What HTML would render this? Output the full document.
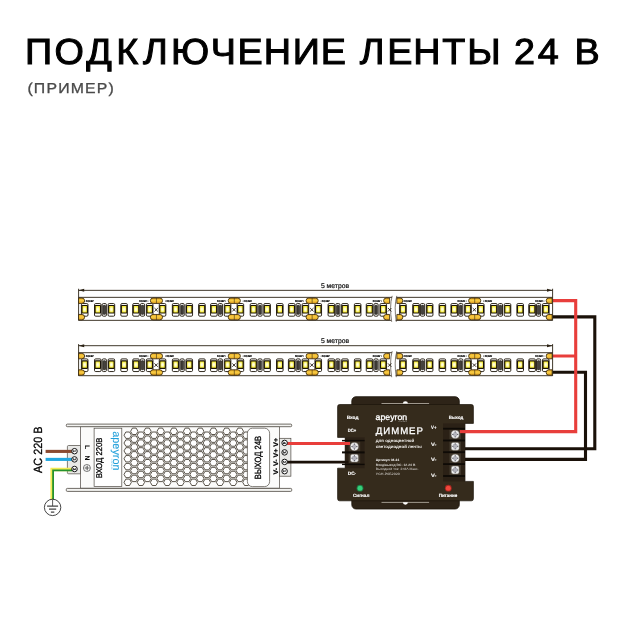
<!DOCTYPE html>
<html lang="ru"><head><meta charset="utf-8"><title>Подключение ленты 24 В</title>
<style>
html,body{margin:0;padding:0;background:#fff;}
body{width:630px;height:630px;overflow:hidden;font-family:"Liberation Sans",sans-serif;}
svg{display:block;position:absolute;left:0;top:0;will-change:transform;}
text{font-family:"Liberation Sans",sans-serif;text-rendering:geometricPrecision;}
</style></head><body>
<svg width="630" height="630" viewBox="0 0 630 630">
<defs>
<radialGradient id="ledg" cx="0.5" cy="0.5" r="0.6">
<stop offset="0" stop-color="#fffff2"/><stop offset="0.3" stop-color="#fffbc0"/><stop offset="0.7" stop-color="#f6ec38"/><stop offset="1" stop-color="#eede18"/>
</radialGradient>
<linearGradient id="padg" x1="0" y1="0" x2="0" y2="1">
<stop offset="0" stop-color="#e9a820"/><stop offset="0.45" stop-color="#f8cd45"/><stop offset="1" stop-color="#e3a01c"/>
</linearGradient>
</defs>

<text transform="scale(1.04,1)" x="23.94 52.48 82.86 111.70 137.49 164.46 202.63 228.29 253.52 281.43 308.34 332.69 345.90 372.28 397.46 425.22 449.22 480.77 494.23 517.18 540.38 552.51" y="64.3" font-size="36.3" fill="#000" stroke="#000" stroke-width="1.0">ПОДКЛЮЧЕНИЕ ЛЕНТЫ 24 В</text>
<text transform="scale(1.1,1)" x="24.9" y="92.8" font-size="14.4" fill="#4a4a4a" stroke="#4a4a4a" stroke-width="0.3" textLength="78.6" lengthAdjust="spacing">(ПРИМЕР)</text>
<g fill="none" stroke-linejoin="miter">
<path d="M552.6,316.9 H594.8 V448.7 H464.5" stroke="#1a1109" stroke-width="3.1"/>
<path d="M552.6,372.2 H585.5 V459.4 H464.5" stroke="#1a1109" stroke-width="3.1"/>
<path d="M552.6,356 H576" stroke="#e83e3b" stroke-width="3"/>
<path d="M552.6,300.6 H575.7 V431.6 H459.5" stroke="#e83e3b" stroke-width="3.1"/>
</g>
<path d="M78.6,288.75 V320.55 M552.6,288.75 V320.55 M78.6,290.35 H552.6" stroke="#2b2214" stroke-width="0.9" fill="none"/>
<path d="M78.6,290.35 l5.6,-1.5 v3 Z M552.6,290.35 l-5.6,-1.5 v3 Z" fill="#2b2214"/>
<text x="335" y="287.9" font-size="6.8" text-anchor="middle" fill="#000" stroke="#000" stroke-width="0.15">5 метров</text>
<path d="M78.6,297.35 H391.90000000000003 M78.6,320.35 H391.1 M396.5,297.35 H552.6 M395.7,320.35 H552.6" stroke="#2b2214" stroke-width="0.9" fill="none"/>
<path d="M392.2,295.85 C390.1,303.35 390.1,311.35 391.7,321.85 M396.79999999999995,295.85 C394.7,303.35 394.7,311.35 396.29999999999995,321.85" stroke="#2b2214" stroke-width="0.6" fill="none"/>
<g fill="#fff" stroke="#1a1206" stroke-width="0.9"><rect x="81.40" y="303.55" width="6.6" height="12.65" rx="1.2"/><rect x="94.50" y="303.55" width="6.6" height="12.65" rx="1.2"/><rect x="108.10" y="303.55" width="6.6" height="12.65" rx="1.2"/><rect x="120.80" y="303.55" width="6.6" height="12.65" rx="1.2"/><rect x="132.70" y="303.55" width="6.6" height="12.65" rx="1.2"/><rect x="146.40" y="303.55" width="6.6" height="12.65" rx="1.2"/><rect x="102.20" y="303.55" width="4.2" height="12.65" rx="1.2"/><rect x="140.40" y="303.55" width="4.2" height="12.65" rx="1.2"/><rect x="159.25" y="303.55" width="6.6" height="12.65" rx="1.2"/><rect x="172.35" y="303.55" width="6.6" height="12.65" rx="1.2"/><rect x="185.95" y="303.55" width="6.6" height="12.65" rx="1.2"/><rect x="198.65" y="303.55" width="6.6" height="12.65" rx="1.2"/><rect x="210.55" y="303.55" width="6.6" height="12.65" rx="1.2"/><rect x="224.25" y="303.55" width="6.6" height="12.65" rx="1.2"/><rect x="180.05" y="303.55" width="4.2" height="12.65" rx="1.2"/><rect x="218.25" y="303.55" width="4.2" height="12.65" rx="1.2"/><rect x="237.10" y="303.55" width="6.6" height="12.65" rx="1.2"/><rect x="250.20" y="303.55" width="6.6" height="12.65" rx="1.2"/><rect x="263.80" y="303.55" width="6.6" height="12.65" rx="1.2"/><rect x="276.50" y="303.55" width="6.6" height="12.65" rx="1.2"/><rect x="288.40" y="303.55" width="6.6" height="12.65" rx="1.2"/><rect x="302.10" y="303.55" width="6.6" height="12.65" rx="1.2"/><rect x="257.90" y="303.55" width="4.2" height="12.65" rx="1.2"/><rect x="296.10" y="303.55" width="4.2" height="12.65" rx="1.2"/><rect x="314.95" y="303.55" width="6.6" height="12.65" rx="1.2"/><rect x="328.05" y="303.55" width="6.6" height="12.65" rx="1.2"/><rect x="341.65" y="303.55" width="6.6" height="12.65" rx="1.2"/><rect x="354.35" y="303.55" width="6.6" height="12.65" rx="1.2"/><rect x="366.25" y="303.55" width="6.6" height="12.65" rx="1.2"/><rect x="379.95" y="303.55" width="6.6" height="12.65" rx="1.2"/><rect x="335.75" y="303.55" width="4.2" height="12.65" rx="1.2"/><rect x="373.95" y="303.55" width="4.2" height="12.65" rx="1.2"/><rect x="399.65" y="303.55" width="6.6" height="12.65" rx="1.2"/><rect x="412.75" y="303.55" width="6.6" height="12.65" rx="1.2"/><rect x="426.35" y="303.55" width="6.6" height="12.65" rx="1.2"/><rect x="439.05" y="303.55" width="6.6" height="12.65" rx="1.2"/><rect x="450.95" y="303.55" width="6.6" height="12.65" rx="1.2"/><rect x="464.65" y="303.55" width="6.6" height="12.65" rx="1.2"/><rect x="420.45" y="303.55" width="4.2" height="12.65" rx="1.2"/><rect x="458.65" y="303.55" width="4.2" height="12.65" rx="1.2"/><rect x="477.50" y="303.55" width="6.6" height="12.65" rx="1.2"/><rect x="490.60" y="303.55" width="6.6" height="12.65" rx="1.2"/><rect x="504.20" y="303.55" width="6.6" height="12.65" rx="1.2"/><rect x="516.90" y="303.55" width="6.6" height="12.65" rx="1.2"/><rect x="528.80" y="303.55" width="6.6" height="12.65" rx="1.2"/><rect x="542.50" y="303.55" width="6.6" height="12.65" rx="1.2"/><rect x="498.30" y="303.55" width="4.2" height="12.65" rx="1.2"/><rect x="536.50" y="303.55" width="4.2" height="12.65" rx="1.2"/></g>
<g fill="url(#ledg)" stroke="#1a1206" stroke-width="1.1"><rect x="81.95" y="305.55" width="5.5" height="7.5" rx="0.5"/><rect x="95.05" y="305.55" width="5.5" height="7.5" rx="0.5"/><rect x="108.65" y="305.55" width="5.5" height="7.5" rx="0.5"/><rect x="121.35" y="305.55" width="5.5" height="7.5" rx="0.5"/><rect x="133.25" y="305.55" width="5.5" height="7.5" rx="0.5"/><rect x="146.95" y="305.55" width="5.5" height="7.5" rx="0.5"/><rect x="159.80" y="305.55" width="5.5" height="7.5" rx="0.5"/><rect x="172.90" y="305.55" width="5.5" height="7.5" rx="0.5"/><rect x="186.50" y="305.55" width="5.5" height="7.5" rx="0.5"/><rect x="199.20" y="305.55" width="5.5" height="7.5" rx="0.5"/><rect x="211.10" y="305.55" width="5.5" height="7.5" rx="0.5"/><rect x="224.80" y="305.55" width="5.5" height="7.5" rx="0.5"/><rect x="237.65" y="305.55" width="5.5" height="7.5" rx="0.5"/><rect x="250.75" y="305.55" width="5.5" height="7.5" rx="0.5"/><rect x="264.35" y="305.55" width="5.5" height="7.5" rx="0.5"/><rect x="277.05" y="305.55" width="5.5" height="7.5" rx="0.5"/><rect x="288.95" y="305.55" width="5.5" height="7.5" rx="0.5"/><rect x="302.65" y="305.55" width="5.5" height="7.5" rx="0.5"/><rect x="315.50" y="305.55" width="5.5" height="7.5" rx="0.5"/><rect x="328.60" y="305.55" width="5.5" height="7.5" rx="0.5"/><rect x="342.20" y="305.55" width="5.5" height="7.5" rx="0.5"/><rect x="354.90" y="305.55" width="5.5" height="7.5" rx="0.5"/><rect x="366.80" y="305.55" width="5.5" height="7.5" rx="0.5"/><rect x="380.50" y="305.55" width="5.5" height="7.5" rx="0.5"/><rect x="400.20" y="305.55" width="5.5" height="7.5" rx="0.5"/><rect x="413.30" y="305.55" width="5.5" height="7.5" rx="0.5"/><rect x="426.90" y="305.55" width="5.5" height="7.5" rx="0.5"/><rect x="439.60" y="305.55" width="5.5" height="7.5" rx="0.5"/><rect x="451.50" y="305.55" width="5.5" height="7.5" rx="0.5"/><rect x="465.20" y="305.55" width="5.5" height="7.5" rx="0.5"/><rect x="478.05" y="305.55" width="5.5" height="7.5" rx="0.5"/><rect x="491.15" y="305.55" width="5.5" height="7.5" rx="0.5"/><rect x="504.75" y="305.55" width="5.5" height="7.5" rx="0.5"/><rect x="517.45" y="305.55" width="5.5" height="7.5" rx="0.5"/><rect x="529.35" y="305.55" width="5.5" height="7.5" rx="0.5"/><rect x="543.05" y="305.55" width="5.5" height="7.5" rx="0.5"/></g>
<g fill="#46423d" stroke="#1d1a16" stroke-width="0.7"><rect x="103.10" y="305.35" width="2.4" height="9" rx="0.6"/><rect x="141.30" y="305.35" width="2.4" height="9" rx="0.6"/><rect x="180.95" y="305.35" width="2.4" height="9" rx="0.6"/><rect x="219.15" y="305.35" width="2.4" height="9" rx="0.6"/><rect x="258.80" y="305.35" width="2.4" height="9" rx="0.6"/><rect x="297.00" y="305.35" width="2.4" height="9" rx="0.6"/><rect x="336.65" y="305.35" width="2.4" height="9" rx="0.6"/><rect x="374.85" y="305.35" width="2.4" height="9" rx="0.6"/><rect x="421.35" y="305.35" width="2.4" height="9" rx="0.6"/><rect x="459.55" y="305.35" width="2.4" height="9" rx="0.6"/><rect x="499.20" y="305.35" width="2.4" height="9" rx="0.6"/><rect x="537.40" y="305.35" width="2.4" height="9" rx="0.6"/></g>
<g fill="url(#padg)" stroke="#2e2008" stroke-width="0.8"><path d="M78.60,298.05 h3.3 a2.7,2.7 0 0 1 0,5.4 h-3.3 Z"/><path d="M78.60,314.45 h3.3 a2.7,2.7 0 0 1 0,5.4 h-3.3 Z"/><rect x="150.35" y="298.05" width="12.2" height="5.4" rx="2.7"/><rect x="150.35" y="314.45" width="12.2" height="5.4" rx="2.7"/><rect x="228.20" y="298.05" width="12.2" height="5.4" rx="2.7"/><rect x="228.20" y="314.45" width="12.2" height="5.4" rx="2.7"/><rect x="306.05" y="298.05" width="12.2" height="5.4" rx="2.7"/><rect x="306.05" y="314.45" width="12.2" height="5.4" rx="2.7"/><path d="M389.60,298.05 h-3.3 a2.7,2.7 0 0 0 0,5.4 h3.3 Z"/><path d="M389.60,314.45 h-3.3 a2.7,2.7 0 0 0 0,5.4 h3.3 Z"/><path d="M396.85,298.05 h3.3 a2.7,2.7 0 0 1 0,5.4 h-3.3 Z"/><path d="M396.85,314.45 h3.3 a2.7,2.7 0 0 1 0,5.4 h-3.3 Z"/><rect x="468.60" y="298.05" width="12.2" height="5.4" rx="2.7"/><rect x="468.60" y="314.45" width="12.2" height="5.4" rx="2.7"/><path d="M552.15,298.05 h-3.3 a2.7,2.7 0 0 0 0,5.4 h3.3 Z"/><path d="M552.15,314.45 h-3.3 a2.7,2.7 0 0 0 0,5.4 h3.3 Z"/></g>
<path d="M156.45,298.05 v5.4 M156.45,314.45 v5.4 M234.30,298.05 v5.4 M234.30,314.45 v5.4 M312.15,298.05 v5.4 M312.15,314.45 v5.4 M474.70,298.05 v5.4 M474.70,314.45 v5.4" stroke="#3a2a10" stroke-width="0.6" fill="none"/>
<path d="M154.45,308.05 l3.4,3.4 M154.45,311.45 l3.4,-3.4 M232.30,308.05 l3.4,3.4 M232.30,311.45 l3.4,-3.4 M310.15,308.05 l3.4,3.4 M310.15,311.45 l3.4,-3.4 M388.00,308.05 l3.4,3.4 M388.00,311.45 l3.4,-3.4 M472.70,308.05 l3.4,3.4 M472.70,311.45 l3.4,-3.4" stroke="#1a1206" stroke-width="0.85" fill="none"/>
<text x="84.50" y="301.75" font-size="2.7" font-weight="bold" fill="#000" stroke="#000" stroke-width="0.2" textLength="9" lengthAdjust="spacingAndGlyphs">▪ DC24V</text>
<text x="83.70" y="319.35" font-size="2" fill="#555">–</text>
<text x="148.25" y="301.75" font-size="2.7" font-weight="bold" text-anchor="end" fill="#000" stroke="#000" stroke-width="0.2" textLength="9" lengthAdjust="spacingAndGlyphs">DC24V ▪</text>
<text x="149.45" y="319.35" font-size="2" text-anchor="end" fill="#555">–</text>
<text x="164.95" y="301.75" font-size="2.7" font-weight="bold" fill="#000" stroke="#000" stroke-width="0.2" textLength="9" lengthAdjust="spacingAndGlyphs">▪ DC24V</text>
<text x="164.15" y="319.35" font-size="2" fill="#555">–</text>
<text x="226.10" y="301.75" font-size="2.7" font-weight="bold" text-anchor="end" fill="#000" stroke="#000" stroke-width="0.2" textLength="9" lengthAdjust="spacingAndGlyphs">DC24V ▪</text>
<text x="227.30" y="319.35" font-size="2" text-anchor="end" fill="#555">–</text>
<text x="242.80" y="301.75" font-size="2.7" font-weight="bold" fill="#000" stroke="#000" stroke-width="0.2" textLength="9" lengthAdjust="spacingAndGlyphs">▪ DC24V</text>
<text x="242.00" y="319.35" font-size="2" fill="#555">–</text>
<text x="303.95" y="301.75" font-size="2.7" font-weight="bold" text-anchor="end" fill="#000" stroke="#000" stroke-width="0.2" textLength="9" lengthAdjust="spacingAndGlyphs">DC24V ▪</text>
<text x="305.15" y="319.35" font-size="2" text-anchor="end" fill="#555">–</text>
<text x="320.65" y="301.75" font-size="2.7" font-weight="bold" fill="#000" stroke="#000" stroke-width="0.2" textLength="9" lengthAdjust="spacingAndGlyphs">▪ DC24V</text>
<text x="319.85" y="319.35" font-size="2" fill="#555">–</text>
<text x="381.80" y="301.75" font-size="2.7" font-weight="bold" text-anchor="end" fill="#000" stroke="#000" stroke-width="0.2" textLength="9" lengthAdjust="spacingAndGlyphs">DC24V ▪</text>
<text x="383.00" y="319.35" font-size="2" text-anchor="end" fill="#555">–</text>
<text x="402.75" y="301.75" font-size="2.7" font-weight="bold" fill="#000" stroke="#000" stroke-width="0.2" textLength="9" lengthAdjust="spacingAndGlyphs">▪ DC24V</text>
<text x="401.95" y="319.35" font-size="2" fill="#555">–</text>
<text x="466.50" y="301.75" font-size="2.7" font-weight="bold" text-anchor="end" fill="#000" stroke="#000" stroke-width="0.2" textLength="9" lengthAdjust="spacingAndGlyphs">DC24V ▪</text>
<text x="467.70" y="319.35" font-size="2" text-anchor="end" fill="#555">–</text>
<text x="483.20" y="301.75" font-size="2.7" font-weight="bold" fill="#000" stroke="#000" stroke-width="0.2" textLength="9" lengthAdjust="spacingAndGlyphs">▪ DC24V</text>
<text x="482.40" y="319.35" font-size="2" fill="#555">–</text>
<text x="544.35" y="301.75" font-size="2.7" font-weight="bold" text-anchor="end" fill="#000" stroke="#000" stroke-width="0.2" textLength="9" lengthAdjust="spacingAndGlyphs">DC24V ▪</text>
<text x="545.55" y="319.35" font-size="2" text-anchor="end" fill="#555">–</text>
<path d="M78.6,344.09999999999997 V375.9 M552.6,344.09999999999997 V375.9 M78.6,345.7 H552.6" stroke="#2b2214" stroke-width="0.9" fill="none"/>
<path d="M78.6,345.7 l5.6,-1.5 v3 Z M552.6,345.7 l-5.6,-1.5 v3 Z" fill="#2b2214"/>
<text x="335" y="343.2" font-size="6.8" text-anchor="middle" fill="#000" stroke="#000" stroke-width="0.15">5 метров</text>
<path d="M78.6,352.7 H391.90000000000003 M78.6,375.7 H391.1 M396.5,352.7 H552.6 M395.7,375.7 H552.6" stroke="#2b2214" stroke-width="0.9" fill="none"/>
<path d="M392.2,351.2 C390.1,358.7 390.1,366.7 391.7,377.2 M396.79999999999995,351.2 C394.7,358.7 394.7,366.7 396.29999999999995,377.2" stroke="#2b2214" stroke-width="0.6" fill="none"/>
<g fill="#fff" stroke="#1a1206" stroke-width="0.9"><rect x="81.40" y="358.90" width="6.6" height="12.65" rx="1.2"/><rect x="94.50" y="358.90" width="6.6" height="12.65" rx="1.2"/><rect x="108.10" y="358.90" width="6.6" height="12.65" rx="1.2"/><rect x="120.80" y="358.90" width="6.6" height="12.65" rx="1.2"/><rect x="132.70" y="358.90" width="6.6" height="12.65" rx="1.2"/><rect x="146.40" y="358.90" width="6.6" height="12.65" rx="1.2"/><rect x="102.20" y="358.90" width="4.2" height="12.65" rx="1.2"/><rect x="140.40" y="358.90" width="4.2" height="12.65" rx="1.2"/><rect x="159.25" y="358.90" width="6.6" height="12.65" rx="1.2"/><rect x="172.35" y="358.90" width="6.6" height="12.65" rx="1.2"/><rect x="185.95" y="358.90" width="6.6" height="12.65" rx="1.2"/><rect x="198.65" y="358.90" width="6.6" height="12.65" rx="1.2"/><rect x="210.55" y="358.90" width="6.6" height="12.65" rx="1.2"/><rect x="224.25" y="358.90" width="6.6" height="12.65" rx="1.2"/><rect x="180.05" y="358.90" width="4.2" height="12.65" rx="1.2"/><rect x="218.25" y="358.90" width="4.2" height="12.65" rx="1.2"/><rect x="237.10" y="358.90" width="6.6" height="12.65" rx="1.2"/><rect x="250.20" y="358.90" width="6.6" height="12.65" rx="1.2"/><rect x="263.80" y="358.90" width="6.6" height="12.65" rx="1.2"/><rect x="276.50" y="358.90" width="6.6" height="12.65" rx="1.2"/><rect x="288.40" y="358.90" width="6.6" height="12.65" rx="1.2"/><rect x="302.10" y="358.90" width="6.6" height="12.65" rx="1.2"/><rect x="257.90" y="358.90" width="4.2" height="12.65" rx="1.2"/><rect x="296.10" y="358.90" width="4.2" height="12.65" rx="1.2"/><rect x="314.95" y="358.90" width="6.6" height="12.65" rx="1.2"/><rect x="328.05" y="358.90" width="6.6" height="12.65" rx="1.2"/><rect x="341.65" y="358.90" width="6.6" height="12.65" rx="1.2"/><rect x="354.35" y="358.90" width="6.6" height="12.65" rx="1.2"/><rect x="366.25" y="358.90" width="6.6" height="12.65" rx="1.2"/><rect x="379.95" y="358.90" width="6.6" height="12.65" rx="1.2"/><rect x="335.75" y="358.90" width="4.2" height="12.65" rx="1.2"/><rect x="373.95" y="358.90" width="4.2" height="12.65" rx="1.2"/><rect x="399.65" y="358.90" width="6.6" height="12.65" rx="1.2"/><rect x="412.75" y="358.90" width="6.6" height="12.65" rx="1.2"/><rect x="426.35" y="358.90" width="6.6" height="12.65" rx="1.2"/><rect x="439.05" y="358.90" width="6.6" height="12.65" rx="1.2"/><rect x="450.95" y="358.90" width="6.6" height="12.65" rx="1.2"/><rect x="464.65" y="358.90" width="6.6" height="12.65" rx="1.2"/><rect x="420.45" y="358.90" width="4.2" height="12.65" rx="1.2"/><rect x="458.65" y="358.90" width="4.2" height="12.65" rx="1.2"/><rect x="477.50" y="358.90" width="6.6" height="12.65" rx="1.2"/><rect x="490.60" y="358.90" width="6.6" height="12.65" rx="1.2"/><rect x="504.20" y="358.90" width="6.6" height="12.65" rx="1.2"/><rect x="516.90" y="358.90" width="6.6" height="12.65" rx="1.2"/><rect x="528.80" y="358.90" width="6.6" height="12.65" rx="1.2"/><rect x="542.50" y="358.90" width="6.6" height="12.65" rx="1.2"/><rect x="498.30" y="358.90" width="4.2" height="12.65" rx="1.2"/><rect x="536.50" y="358.90" width="4.2" height="12.65" rx="1.2"/></g>
<g fill="url(#ledg)" stroke="#1a1206" stroke-width="1.1"><rect x="81.95" y="360.90" width="5.5" height="7.5" rx="0.5"/><rect x="95.05" y="360.90" width="5.5" height="7.5" rx="0.5"/><rect x="108.65" y="360.90" width="5.5" height="7.5" rx="0.5"/><rect x="121.35" y="360.90" width="5.5" height="7.5" rx="0.5"/><rect x="133.25" y="360.90" width="5.5" height="7.5" rx="0.5"/><rect x="146.95" y="360.90" width="5.5" height="7.5" rx="0.5"/><rect x="159.80" y="360.90" width="5.5" height="7.5" rx="0.5"/><rect x="172.90" y="360.90" width="5.5" height="7.5" rx="0.5"/><rect x="186.50" y="360.90" width="5.5" height="7.5" rx="0.5"/><rect x="199.20" y="360.90" width="5.5" height="7.5" rx="0.5"/><rect x="211.10" y="360.90" width="5.5" height="7.5" rx="0.5"/><rect x="224.80" y="360.90" width="5.5" height="7.5" rx="0.5"/><rect x="237.65" y="360.90" width="5.5" height="7.5" rx="0.5"/><rect x="250.75" y="360.90" width="5.5" height="7.5" rx="0.5"/><rect x="264.35" y="360.90" width="5.5" height="7.5" rx="0.5"/><rect x="277.05" y="360.90" width="5.5" height="7.5" rx="0.5"/><rect x="288.95" y="360.90" width="5.5" height="7.5" rx="0.5"/><rect x="302.65" y="360.90" width="5.5" height="7.5" rx="0.5"/><rect x="315.50" y="360.90" width="5.5" height="7.5" rx="0.5"/><rect x="328.60" y="360.90" width="5.5" height="7.5" rx="0.5"/><rect x="342.20" y="360.90" width="5.5" height="7.5" rx="0.5"/><rect x="354.90" y="360.90" width="5.5" height="7.5" rx="0.5"/><rect x="366.80" y="360.90" width="5.5" height="7.5" rx="0.5"/><rect x="380.50" y="360.90" width="5.5" height="7.5" rx="0.5"/><rect x="400.20" y="360.90" width="5.5" height="7.5" rx="0.5"/><rect x="413.30" y="360.90" width="5.5" height="7.5" rx="0.5"/><rect x="426.90" y="360.90" width="5.5" height="7.5" rx="0.5"/><rect x="439.60" y="360.90" width="5.5" height="7.5" rx="0.5"/><rect x="451.50" y="360.90" width="5.5" height="7.5" rx="0.5"/><rect x="465.20" y="360.90" width="5.5" height="7.5" rx="0.5"/><rect x="478.05" y="360.90" width="5.5" height="7.5" rx="0.5"/><rect x="491.15" y="360.90" width="5.5" height="7.5" rx="0.5"/><rect x="504.75" y="360.90" width="5.5" height="7.5" rx="0.5"/><rect x="517.45" y="360.90" width="5.5" height="7.5" rx="0.5"/><rect x="529.35" y="360.90" width="5.5" height="7.5" rx="0.5"/><rect x="543.05" y="360.90" width="5.5" height="7.5" rx="0.5"/></g>
<g fill="#46423d" stroke="#1d1a16" stroke-width="0.7"><rect x="103.10" y="360.70" width="2.4" height="9" rx="0.6"/><rect x="141.30" y="360.70" width="2.4" height="9" rx="0.6"/><rect x="180.95" y="360.70" width="2.4" height="9" rx="0.6"/><rect x="219.15" y="360.70" width="2.4" height="9" rx="0.6"/><rect x="258.80" y="360.70" width="2.4" height="9" rx="0.6"/><rect x="297.00" y="360.70" width="2.4" height="9" rx="0.6"/><rect x="336.65" y="360.70" width="2.4" height="9" rx="0.6"/><rect x="374.85" y="360.70" width="2.4" height="9" rx="0.6"/><rect x="421.35" y="360.70" width="2.4" height="9" rx="0.6"/><rect x="459.55" y="360.70" width="2.4" height="9" rx="0.6"/><rect x="499.20" y="360.70" width="2.4" height="9" rx="0.6"/><rect x="537.40" y="360.70" width="2.4" height="9" rx="0.6"/></g>
<g fill="url(#padg)" stroke="#2e2008" stroke-width="0.8"><path d="M78.60,353.40 h3.3 a2.7,2.7 0 0 1 0,5.4 h-3.3 Z"/><path d="M78.60,369.80 h3.3 a2.7,2.7 0 0 1 0,5.4 h-3.3 Z"/><rect x="150.35" y="353.40" width="12.2" height="5.4" rx="2.7"/><rect x="150.35" y="369.80" width="12.2" height="5.4" rx="2.7"/><rect x="228.20" y="353.40" width="12.2" height="5.4" rx="2.7"/><rect x="228.20" y="369.80" width="12.2" height="5.4" rx="2.7"/><rect x="306.05" y="353.40" width="12.2" height="5.4" rx="2.7"/><rect x="306.05" y="369.80" width="12.2" height="5.4" rx="2.7"/><path d="M389.60,353.40 h-3.3 a2.7,2.7 0 0 0 0,5.4 h3.3 Z"/><path d="M389.60,369.80 h-3.3 a2.7,2.7 0 0 0 0,5.4 h3.3 Z"/><path d="M396.85,353.40 h3.3 a2.7,2.7 0 0 1 0,5.4 h-3.3 Z"/><path d="M396.85,369.80 h3.3 a2.7,2.7 0 0 1 0,5.4 h-3.3 Z"/><rect x="468.60" y="353.40" width="12.2" height="5.4" rx="2.7"/><rect x="468.60" y="369.80" width="12.2" height="5.4" rx="2.7"/><path d="M552.15,353.40 h-3.3 a2.7,2.7 0 0 0 0,5.4 h3.3 Z"/><path d="M552.15,369.80 h-3.3 a2.7,2.7 0 0 0 0,5.4 h3.3 Z"/></g>
<path d="M156.45,353.40 v5.4 M156.45,369.80 v5.4 M234.30,353.40 v5.4 M234.30,369.80 v5.4 M312.15,353.40 v5.4 M312.15,369.80 v5.4 M474.70,353.40 v5.4 M474.70,369.80 v5.4" stroke="#3a2a10" stroke-width="0.6" fill="none"/>
<path d="M154.45,363.40 l3.4,3.4 M154.45,366.80 l3.4,-3.4 M232.30,363.40 l3.4,3.4 M232.30,366.80 l3.4,-3.4 M310.15,363.40 l3.4,3.4 M310.15,366.80 l3.4,-3.4 M388.00,363.40 l3.4,3.4 M388.00,366.80 l3.4,-3.4 M472.70,363.40 l3.4,3.4 M472.70,366.80 l3.4,-3.4" stroke="#1a1206" stroke-width="0.85" fill="none"/>
<text x="84.50" y="357.10" font-size="2.7" font-weight="bold" fill="#000" stroke="#000" stroke-width="0.2" textLength="9" lengthAdjust="spacingAndGlyphs">▪ DC24V</text>
<text x="83.70" y="374.70" font-size="2" fill="#555">–</text>
<text x="148.25" y="357.10" font-size="2.7" font-weight="bold" text-anchor="end" fill="#000" stroke="#000" stroke-width="0.2" textLength="9" lengthAdjust="spacingAndGlyphs">DC24V ▪</text>
<text x="149.45" y="374.70" font-size="2" text-anchor="end" fill="#555">–</text>
<text x="164.95" y="357.10" font-size="2.7" font-weight="bold" fill="#000" stroke="#000" stroke-width="0.2" textLength="9" lengthAdjust="spacingAndGlyphs">▪ DC24V</text>
<text x="164.15" y="374.70" font-size="2" fill="#555">–</text>
<text x="226.10" y="357.10" font-size="2.7" font-weight="bold" text-anchor="end" fill="#000" stroke="#000" stroke-width="0.2" textLength="9" lengthAdjust="spacingAndGlyphs">DC24V ▪</text>
<text x="227.30" y="374.70" font-size="2" text-anchor="end" fill="#555">–</text>
<text x="242.80" y="357.10" font-size="2.7" font-weight="bold" fill="#000" stroke="#000" stroke-width="0.2" textLength="9" lengthAdjust="spacingAndGlyphs">▪ DC24V</text>
<text x="242.00" y="374.70" font-size="2" fill="#555">–</text>
<text x="303.95" y="357.10" font-size="2.7" font-weight="bold" text-anchor="end" fill="#000" stroke="#000" stroke-width="0.2" textLength="9" lengthAdjust="spacingAndGlyphs">DC24V ▪</text>
<text x="305.15" y="374.70" font-size="2" text-anchor="end" fill="#555">–</text>
<text x="320.65" y="357.10" font-size="2.7" font-weight="bold" fill="#000" stroke="#000" stroke-width="0.2" textLength="9" lengthAdjust="spacingAndGlyphs">▪ DC24V</text>
<text x="319.85" y="374.70" font-size="2" fill="#555">–</text>
<text x="381.80" y="357.10" font-size="2.7" font-weight="bold" text-anchor="end" fill="#000" stroke="#000" stroke-width="0.2" textLength="9" lengthAdjust="spacingAndGlyphs">DC24V ▪</text>
<text x="383.00" y="374.70" font-size="2" text-anchor="end" fill="#555">–</text>
<text x="402.75" y="357.10" font-size="2.7" font-weight="bold" fill="#000" stroke="#000" stroke-width="0.2" textLength="9" lengthAdjust="spacingAndGlyphs">▪ DC24V</text>
<text x="401.95" y="374.70" font-size="2" fill="#555">–</text>
<text x="466.50" y="357.10" font-size="2.7" font-weight="bold" text-anchor="end" fill="#000" stroke="#000" stroke-width="0.2" textLength="9" lengthAdjust="spacingAndGlyphs">DC24V ▪</text>
<text x="467.70" y="374.70" font-size="2" text-anchor="end" fill="#555">–</text>
<text x="483.20" y="357.10" font-size="2.7" font-weight="bold" fill="#000" stroke="#000" stroke-width="0.2" textLength="9" lengthAdjust="spacingAndGlyphs">▪ DC24V</text>
<text x="482.40" y="374.70" font-size="2" fill="#555">–</text>
<text x="544.35" y="357.10" font-size="2.7" font-weight="bold" text-anchor="end" fill="#000" stroke="#000" stroke-width="0.2" textLength="9" lengthAdjust="spacingAndGlyphs">DC24V ▪</text>
<text x="545.55" y="374.70" font-size="2" text-anchor="end" fill="#555">–</text>
<rect x="351.8" y="396.7" width="107.5" height="112.3" rx="4.2" fill="#2e2418" stroke="#1d150b" stroke-width="0.8"/>
<path d="M339.6,404.5 H471.4 a2,2 0 0 1 2,2 V423.4 H465 V481.4 H473.4 V498.8 a2,2 0 0 1 -2,2 H339.6 a2,2 0 0 1 -2,-2 V468.2 H345.2 V437.4 H337.6 V406.5 a2,2 0 0 1 2,-2 Z" fill="#352b1c" stroke="#1d150b" stroke-width="0.7"/>
<path d="M381.5,403.5 H429.1" stroke="#b3ada3" stroke-width="0.85"/><path d="M402.9,403.6 a2.5,2.4 0 0 1 5,0 Z" fill="#fff"/>
<path d="M381.5,502.4 H429.1" stroke="#b3ada3" stroke-width="0.85"/><path d="M402.9,502.3 a2.5,2.4 0 0 0 5,0 Z" fill="#fff"/>
<rect x="345.2" y="437.4" width="19.4" height="30.8" fill="#2b2116"/>
<rect x="443.1" y="423.4" width="21.9" height="58" fill="#2b2116"/>
<rect x="348.6" y="441.7" width="11.6" height="9.8" fill="#40372b"/><circle cx="354.4" cy="446.6" r="4.05" fill="#f1f1f1" stroke="#77736d" stroke-width="0.5"/><circle cx="354.4" cy="446.6" r="2.3" fill="#b3b3bb"/><path d="M351.29999999999995,446.6 h1.3 M356.2,446.6 h1.3 M354.4,443.5 v1.3 M354.4,448.40000000000003 v1.3" stroke="#4c4c55" stroke-width="0.9" fill="none"/>
<rect x="348.6" y="453.3" width="11.6" height="9.8" fill="#40372b"/><rect x="350.5" y="454.3" width="7.8" height="7.8" rx="1.8" fill="#f1f1f1" stroke="#77736d" stroke-width="0.5"/><rect x="352.2" y="456.0" width="4.4" height="4.4" rx="0.8" fill="#b3b3bb"/><path d="M351.29999999999995,458.2 h1.3 M356.2,458.2 h1.3 M354.4,455.09999999999997 v1.3 M354.4,460.0 v1.3" stroke="#4c4c55" stroke-width="0.9" fill="none"/>
<rect x="449.4" y="429.5" width="11.6" height="9.8" fill="#40372b"/><circle cx="455.2" cy="434.4" r="4.05" fill="#f1f1f1" stroke="#77736d" stroke-width="0.5"/><circle cx="455.2" cy="434.4" r="2.3" fill="#b3b3bb"/><path d="M452.09999999999997,434.4 h1.3 M457.0,434.4 h1.3 M455.2,431.29999999999995 v1.3 M455.2,436.2 v1.3" stroke="#4c4c55" stroke-width="0.9" fill="none"/>
<rect x="449.4" y="441.4" width="11.6" height="9.8" fill="#40372b"/><rect x="451.3" y="442.4" width="7.8" height="7.8" rx="1.8" fill="#f1f1f1" stroke="#77736d" stroke-width="0.5"/><rect x="453.0" y="444.1" width="4.4" height="4.4" rx="0.8" fill="#b3b3bb"/><path d="M452.09999999999997,446.3 h1.3 M457.0,446.3 h1.3 M455.2,443.2 v1.3 M455.2,448.1 v1.3" stroke="#4c4c55" stroke-width="0.9" fill="none"/>
<rect x="449.4" y="453.3" width="11.6" height="9.8" fill="#40372b"/><circle cx="455.2" cy="458.2" r="4.05" fill="#f1f1f1" stroke="#77736d" stroke-width="0.5"/><circle cx="455.2" cy="458.2" r="2.3" fill="#b3b3bb"/><path d="M452.09999999999997,458.2 h1.3 M457.0,458.2 h1.3 M455.2,455.09999999999997 v1.3 M455.2,460.0 v1.3" stroke="#4c4c55" stroke-width="0.9" fill="none"/>
<rect x="449.4" y="465.1" width="11.6" height="9.8" fill="#40372b"/><rect x="451.3" y="466.1" width="7.8" height="7.8" rx="1.8" fill="#f1f1f1" stroke="#77736d" stroke-width="0.5"/><rect x="453.0" y="467.8" width="4.4" height="4.4" rx="0.8" fill="#b3b3bb"/><path d="M452.09999999999997,470.0 h1.3 M457.0,470.0 h1.3 M455.2,466.9 v1.3 M455.2,471.8 v1.3" stroke="#4c4c55" stroke-width="0.9" fill="none"/>
<rect x="342" y="439.90000000000003" width="22.6" height="1.4" fill="#0e0a06"/>
<rect x="342" y="451.4" width="22.6" height="2.0" fill="#0e0a06"/>
<rect x="342" y="463.7" width="22.6" height="1.4" fill="#0e0a06"/>
<rect x="443.1" y="427.8" width="21.9" height="1.8" fill="#0e0a06"/>
<rect x="443.1" y="439.6" width="21.9" height="1.8" fill="#0e0a06"/>
<rect x="443.1" y="451.3" width="21.9" height="1.8" fill="#0e0a06"/>
<rect x="443.1" y="463.20000000000005" width="21.9" height="1.8" fill="#0e0a06"/>
<rect x="443.1" y="475.1" width="21.9" height="1.8" fill="#0e0a06"/>
<path d="M466,431.6 H459.9" stroke="#e83e3b" stroke-width="3.1" fill="none"/>
<text x="346.8" y="419" font-size="4.8" font-weight="bold" fill="#fff" stroke="#fff" stroke-width="0.15" textLength="11.6" lengthAdjust="spacingAndGlyphs">Вход</text>
<text x="347.8" y="431.8" font-size="4.8" font-weight="bold" fill="#fff" stroke="#fff" stroke-width="0.15" textLength="8.4" lengthAdjust="spacingAndGlyphs">DC+</text>
<text x="347.8" y="475.3" font-size="4.8" font-weight="bold" fill="#fff" stroke="#fff" stroke-width="0.15" textLength="8.4" lengthAdjust="spacingAndGlyphs">DC-</text>
<text x="448.8" y="419" font-size="4.8" font-weight="bold" fill="#fff" stroke="#fff" stroke-width="0.15" textLength="14.4" lengthAdjust="spacingAndGlyphs">Выход</text>
<text x="375.6" y="419.9" font-size="8.6" fill="#fff" stroke="#fff" stroke-width="0.3" textLength="31.6" lengthAdjust="spacingAndGlyphs">apeyron</text>
<text x="398.2" y="422.4" font-size="1.6" fill="#ddd" textLength="8.5" lengthAdjust="spacingAndGlyphs">ELECTRICS</text>
<text x="375.8" y="433.8" font-size="9.6" fill="#fff" stroke="#fff" stroke-width="0.3" textLength="47.1" lengthAdjust="spacing">ДИММЕР</text>
<text x="375.7" y="442.1" font-size="4.4" font-weight="bold" fill="#f3f1ee" textLength="38.6" lengthAdjust="spacingAndGlyphs">для одноцветной</text>
<text x="375.7" y="447.8" font-size="4.4" font-weight="bold" fill="#f3f1ee" textLength="46.2" lengthAdjust="spacingAndGlyphs">светодиодной ленты</text>
<text x="375.8" y="461.3" font-size="3.2" font-weight="bold" fill="#fff" textLength="23.5" lengthAdjust="spacingAndGlyphs">Артикул 04-31</text>
<text x="375.8" y="465.7" font-size="3.2" font-weight="bold" fill="#d9d6d2" textLength="39.5" lengthAdjust="spacingAndGlyphs">Вход/выход DC: 12-24 В</text>
<text x="375.8" y="470.2" font-size="3.2" fill="#d9d6d2" textLength="43" lengthAdjust="spacingAndGlyphs">Выходной ток: 3×8А Макс.</text>
<text x="375.8" y="474.7" font-size="3.2" fill="#d9d6d2" textLength="24" lengthAdjust="spacingAndGlyphs">УСН-Р0Б2020</text>
<text x="431.1" y="428.9" font-size="4.6" font-weight="bold" fill="#fff" stroke="#fff" stroke-width="0.1" textLength="5.4" lengthAdjust="spacingAndGlyphs">V+</text>
<text x="431.1" y="445.7" font-size="4.6" font-weight="bold" fill="#fff" stroke="#fff" stroke-width="0.1" textLength="5.4" lengthAdjust="spacingAndGlyphs">V-</text>
<text x="431.1" y="461.1" font-size="4.6" font-weight="bold" fill="#fff" stroke="#fff" stroke-width="0.1" textLength="5.4" lengthAdjust="spacingAndGlyphs">V-</text>
<text x="431.1" y="477.0" font-size="4.6" font-weight="bold" fill="#fff" stroke="#fff" stroke-width="0.1" textLength="5.4" lengthAdjust="spacingAndGlyphs">V-</text>
<circle cx="360" cy="488.2" r="3.4" fill="#1f7a45"/><circle cx="360" cy="488.2" r="2.5" fill="#35d07a"/>
<circle cx="448.3" cy="488.2" r="3.4" fill="#a3261f"/><circle cx="448.3" cy="488.2" r="2.5" fill="#f0473c"/>
<text x="353" y="497.4" font-size="4.7" font-weight="bold" fill="#fff" stroke="#fff" stroke-width="0.15" textLength="16.3" lengthAdjust="spacingAndGlyphs">Сигнал</text>
<text x="438.7" y="497.4" font-size="4.7" font-weight="bold" fill="#fff" stroke="#fff" stroke-width="0.15" textLength="18.5" lengthAdjust="spacingAndGlyphs">Питание</text>
<rect x="80.5" y="426.6" width="198.9" height="61.6" fill="#fbfbfa" stroke="#4c4740" stroke-width="0.7"/>
<rect x="66.3" y="424.1" width="225.4" height="2.6" rx="1" fill="#f4f4f2" stroke="#4c4740" stroke-width="0.8"/>
<rect x="66.3" y="488.4" width="225.4" height="3.0" rx="1" fill="#f4f4f2" stroke="#4c4740" stroke-width="0.8"/>
<path d="M124.00,435.20l1.85,-3.2h3.7l1.85,3.2l-1.85,3.2h-3.7ZM124.00,443.05l1.85,-3.2h3.7l1.85,3.2l-1.85,3.2h-3.7ZM124.00,450.90l1.85,-3.2h3.7l1.85,3.2l-1.85,3.2h-3.7ZM124.00,458.75l1.85,-3.2h3.7l1.85,3.2l-1.85,3.2h-3.7ZM124.00,466.60l1.85,-3.2h3.7l1.85,3.2l-1.85,3.2h-3.7ZM124.00,474.45l1.85,-3.2h3.7l1.85,3.2l-1.85,3.2h-3.7ZM124.00,482.30l1.85,-3.2h3.7l1.85,3.2l-1.85,3.2h-3.7ZM130.60,431.30l1.85,-3.2h3.7l1.85,3.2l-1.85,3.2h-3.7ZM130.60,439.15l1.85,-3.2h3.7l1.85,3.2l-1.85,3.2h-3.7ZM130.60,447.00l1.85,-3.2h3.7l1.85,3.2l-1.85,3.2h-3.7ZM130.60,454.85l1.85,-3.2h3.7l1.85,3.2l-1.85,3.2h-3.7ZM130.60,462.70l1.85,-3.2h3.7l1.85,3.2l-1.85,3.2h-3.7ZM130.60,470.55l1.85,-3.2h3.7l1.85,3.2l-1.85,3.2h-3.7ZM130.60,478.40l1.85,-3.2h3.7l1.85,3.2l-1.85,3.2h-3.7ZM137.19,435.20l1.85,-3.2h3.7l1.85,3.2l-1.85,3.2h-3.7ZM137.19,443.05l1.85,-3.2h3.7l1.85,3.2l-1.85,3.2h-3.7ZM137.19,450.90l1.85,-3.2h3.7l1.85,3.2l-1.85,3.2h-3.7ZM137.19,458.75l1.85,-3.2h3.7l1.85,3.2l-1.85,3.2h-3.7ZM137.19,466.60l1.85,-3.2h3.7l1.85,3.2l-1.85,3.2h-3.7ZM137.19,474.45l1.85,-3.2h3.7l1.85,3.2l-1.85,3.2h-3.7ZM137.19,482.30l1.85,-3.2h3.7l1.85,3.2l-1.85,3.2h-3.7ZM143.79,431.30l1.85,-3.2h3.7l1.85,3.2l-1.85,3.2h-3.7ZM143.79,439.15l1.85,-3.2h3.7l1.85,3.2l-1.85,3.2h-3.7ZM143.79,447.00l1.85,-3.2h3.7l1.85,3.2l-1.85,3.2h-3.7ZM143.79,454.85l1.85,-3.2h3.7l1.85,3.2l-1.85,3.2h-3.7ZM143.79,462.70l1.85,-3.2h3.7l1.85,3.2l-1.85,3.2h-3.7ZM143.79,470.55l1.85,-3.2h3.7l1.85,3.2l-1.85,3.2h-3.7ZM143.79,478.40l1.85,-3.2h3.7l1.85,3.2l-1.85,3.2h-3.7ZM150.38,435.20l1.85,-3.2h3.7l1.85,3.2l-1.85,3.2h-3.7ZM150.38,443.05l1.85,-3.2h3.7l1.85,3.2l-1.85,3.2h-3.7ZM150.38,450.90l1.85,-3.2h3.7l1.85,3.2l-1.85,3.2h-3.7ZM150.38,458.75l1.85,-3.2h3.7l1.85,3.2l-1.85,3.2h-3.7ZM150.38,466.60l1.85,-3.2h3.7l1.85,3.2l-1.85,3.2h-3.7ZM150.38,474.45l1.85,-3.2h3.7l1.85,3.2l-1.85,3.2h-3.7ZM150.38,482.30l1.85,-3.2h3.7l1.85,3.2l-1.85,3.2h-3.7ZM156.98,431.30l1.85,-3.2h3.7l1.85,3.2l-1.85,3.2h-3.7ZM156.98,439.15l1.85,-3.2h3.7l1.85,3.2l-1.85,3.2h-3.7ZM156.98,447.00l1.85,-3.2h3.7l1.85,3.2l-1.85,3.2h-3.7ZM156.98,454.85l1.85,-3.2h3.7l1.85,3.2l-1.85,3.2h-3.7ZM156.98,462.70l1.85,-3.2h3.7l1.85,3.2l-1.85,3.2h-3.7ZM156.98,470.55l1.85,-3.2h3.7l1.85,3.2l-1.85,3.2h-3.7ZM156.98,478.40l1.85,-3.2h3.7l1.85,3.2l-1.85,3.2h-3.7ZM163.57,435.20l1.85,-3.2h3.7l1.85,3.2l-1.85,3.2h-3.7ZM163.57,443.05l1.85,-3.2h3.7l1.85,3.2l-1.85,3.2h-3.7ZM163.57,450.90l1.85,-3.2h3.7l1.85,3.2l-1.85,3.2h-3.7ZM163.57,458.75l1.85,-3.2h3.7l1.85,3.2l-1.85,3.2h-3.7ZM163.57,466.60l1.85,-3.2h3.7l1.85,3.2l-1.85,3.2h-3.7ZM163.57,474.45l1.85,-3.2h3.7l1.85,3.2l-1.85,3.2h-3.7ZM163.57,482.30l1.85,-3.2h3.7l1.85,3.2l-1.85,3.2h-3.7ZM170.17,431.30l1.85,-3.2h3.7l1.85,3.2l-1.85,3.2h-3.7ZM170.17,439.15l1.85,-3.2h3.7l1.85,3.2l-1.85,3.2h-3.7ZM170.17,447.00l1.85,-3.2h3.7l1.85,3.2l-1.85,3.2h-3.7ZM170.17,454.85l1.85,-3.2h3.7l1.85,3.2l-1.85,3.2h-3.7ZM170.17,462.70l1.85,-3.2h3.7l1.85,3.2l-1.85,3.2h-3.7ZM170.17,470.55l1.85,-3.2h3.7l1.85,3.2l-1.85,3.2h-3.7ZM170.17,478.40l1.85,-3.2h3.7l1.85,3.2l-1.85,3.2h-3.7ZM176.76,435.20l1.85,-3.2h3.7l1.85,3.2l-1.85,3.2h-3.7ZM176.76,443.05l1.85,-3.2h3.7l1.85,3.2l-1.85,3.2h-3.7ZM176.76,450.90l1.85,-3.2h3.7l1.85,3.2l-1.85,3.2h-3.7ZM176.76,458.75l1.85,-3.2h3.7l1.85,3.2l-1.85,3.2h-3.7ZM176.76,466.60l1.85,-3.2h3.7l1.85,3.2l-1.85,3.2h-3.7ZM176.76,474.45l1.85,-3.2h3.7l1.85,3.2l-1.85,3.2h-3.7ZM176.76,482.30l1.85,-3.2h3.7l1.85,3.2l-1.85,3.2h-3.7ZM183.36,431.30l1.85,-3.2h3.7l1.85,3.2l-1.85,3.2h-3.7ZM183.36,439.15l1.85,-3.2h3.7l1.85,3.2l-1.85,3.2h-3.7ZM183.36,447.00l1.85,-3.2h3.7l1.85,3.2l-1.85,3.2h-3.7ZM183.36,454.85l1.85,-3.2h3.7l1.85,3.2l-1.85,3.2h-3.7ZM183.36,462.70l1.85,-3.2h3.7l1.85,3.2l-1.85,3.2h-3.7ZM183.36,470.55l1.85,-3.2h3.7l1.85,3.2l-1.85,3.2h-3.7ZM183.36,478.40l1.85,-3.2h3.7l1.85,3.2l-1.85,3.2h-3.7ZM189.95,435.20l1.85,-3.2h3.7l1.85,3.2l-1.85,3.2h-3.7ZM189.95,443.05l1.85,-3.2h3.7l1.85,3.2l-1.85,3.2h-3.7ZM189.95,450.90l1.85,-3.2h3.7l1.85,3.2l-1.85,3.2h-3.7ZM189.95,458.75l1.85,-3.2h3.7l1.85,3.2l-1.85,3.2h-3.7ZM189.95,466.60l1.85,-3.2h3.7l1.85,3.2l-1.85,3.2h-3.7ZM189.95,474.45l1.85,-3.2h3.7l1.85,3.2l-1.85,3.2h-3.7ZM189.95,482.30l1.85,-3.2h3.7l1.85,3.2l-1.85,3.2h-3.7ZM196.55,431.30l1.85,-3.2h3.7l1.85,3.2l-1.85,3.2h-3.7ZM196.55,439.15l1.85,-3.2h3.7l1.85,3.2l-1.85,3.2h-3.7ZM196.55,447.00l1.85,-3.2h3.7l1.85,3.2l-1.85,3.2h-3.7ZM196.55,454.85l1.85,-3.2h3.7l1.85,3.2l-1.85,3.2h-3.7ZM196.55,462.70l1.85,-3.2h3.7l1.85,3.2l-1.85,3.2h-3.7ZM196.55,470.55l1.85,-3.2h3.7l1.85,3.2l-1.85,3.2h-3.7ZM196.55,478.40l1.85,-3.2h3.7l1.85,3.2l-1.85,3.2h-3.7ZM203.14,435.20l1.85,-3.2h3.7l1.85,3.2l-1.85,3.2h-3.7ZM203.14,443.05l1.85,-3.2h3.7l1.85,3.2l-1.85,3.2h-3.7ZM203.14,450.90l1.85,-3.2h3.7l1.85,3.2l-1.85,3.2h-3.7ZM203.14,458.75l1.85,-3.2h3.7l1.85,3.2l-1.85,3.2h-3.7ZM203.14,466.60l1.85,-3.2h3.7l1.85,3.2l-1.85,3.2h-3.7ZM203.14,474.45l1.85,-3.2h3.7l1.85,3.2l-1.85,3.2h-3.7ZM203.14,482.30l1.85,-3.2h3.7l1.85,3.2l-1.85,3.2h-3.7ZM209.74,431.30l1.85,-3.2h3.7l1.85,3.2l-1.85,3.2h-3.7ZM209.74,439.15l1.85,-3.2h3.7l1.85,3.2l-1.85,3.2h-3.7ZM209.74,447.00l1.85,-3.2h3.7l1.85,3.2l-1.85,3.2h-3.7ZM209.74,454.85l1.85,-3.2h3.7l1.85,3.2l-1.85,3.2h-3.7ZM209.74,462.70l1.85,-3.2h3.7l1.85,3.2l-1.85,3.2h-3.7ZM209.74,470.55l1.85,-3.2h3.7l1.85,3.2l-1.85,3.2h-3.7ZM209.74,478.40l1.85,-3.2h3.7l1.85,3.2l-1.85,3.2h-3.7ZM216.33,435.20l1.85,-3.2h3.7l1.85,3.2l-1.85,3.2h-3.7ZM216.33,443.05l1.85,-3.2h3.7l1.85,3.2l-1.85,3.2h-3.7ZM216.33,450.90l1.85,-3.2h3.7l1.85,3.2l-1.85,3.2h-3.7ZM216.33,458.75l1.85,-3.2h3.7l1.85,3.2l-1.85,3.2h-3.7ZM216.33,466.60l1.85,-3.2h3.7l1.85,3.2l-1.85,3.2h-3.7ZM216.33,474.45l1.85,-3.2h3.7l1.85,3.2l-1.85,3.2h-3.7ZM216.33,482.30l1.85,-3.2h3.7l1.85,3.2l-1.85,3.2h-3.7ZM222.93,431.30l1.85,-3.2h3.7l1.85,3.2l-1.85,3.2h-3.7ZM222.93,439.15l1.85,-3.2h3.7l1.85,3.2l-1.85,3.2h-3.7ZM222.93,447.00l1.85,-3.2h3.7l1.85,3.2l-1.85,3.2h-3.7ZM222.93,454.85l1.85,-3.2h3.7l1.85,3.2l-1.85,3.2h-3.7ZM222.93,462.70l1.85,-3.2h3.7l1.85,3.2l-1.85,3.2h-3.7ZM222.93,470.55l1.85,-3.2h3.7l1.85,3.2l-1.85,3.2h-3.7ZM222.93,478.40l1.85,-3.2h3.7l1.85,3.2l-1.85,3.2h-3.7ZM229.52,435.20l1.85,-3.2h3.7l1.85,3.2l-1.85,3.2h-3.7ZM229.52,443.05l1.85,-3.2h3.7l1.85,3.2l-1.85,3.2h-3.7ZM229.52,450.90l1.85,-3.2h3.7l1.85,3.2l-1.85,3.2h-3.7ZM229.52,458.75l1.85,-3.2h3.7l1.85,3.2l-1.85,3.2h-3.7ZM229.52,466.60l1.85,-3.2h3.7l1.85,3.2l-1.85,3.2h-3.7ZM229.52,474.45l1.85,-3.2h3.7l1.85,3.2l-1.85,3.2h-3.7ZM229.52,482.30l1.85,-3.2h3.7l1.85,3.2l-1.85,3.2h-3.7ZM236.12,431.30l1.85,-3.2h3.7l1.85,3.2l-1.85,3.2h-3.7ZM236.12,439.15l1.85,-3.2h3.7l1.85,3.2l-1.85,3.2h-3.7ZM236.12,447.00l1.85,-3.2h3.7l1.85,3.2l-1.85,3.2h-3.7ZM236.12,454.85l1.85,-3.2h3.7l1.85,3.2l-1.85,3.2h-3.7ZM236.12,462.70l1.85,-3.2h3.7l1.85,3.2l-1.85,3.2h-3.7ZM236.12,470.55l1.85,-3.2h3.7l1.85,3.2l-1.85,3.2h-3.7ZM236.12,478.40l1.85,-3.2h3.7l1.85,3.2l-1.85,3.2h-3.7ZM242.71,435.20l1.85,-3.2h3.7l1.85,3.2l-1.85,3.2h-3.7ZM242.71,443.05l1.85,-3.2h3.7l1.85,3.2l-1.85,3.2h-3.7ZM242.71,450.90l1.85,-3.2h3.7l1.85,3.2l-1.85,3.2h-3.7ZM242.71,458.75l1.85,-3.2h3.7l1.85,3.2l-1.85,3.2h-3.7ZM242.71,466.60l1.85,-3.2h3.7l1.85,3.2l-1.85,3.2h-3.7ZM242.71,474.45l1.85,-3.2h3.7l1.85,3.2l-1.85,3.2h-3.7ZM242.71,482.30l1.85,-3.2h3.7l1.85,3.2l-1.85,3.2h-3.7Z" fill="#fff" stroke="#3e372d" stroke-width="0.85" stroke-linejoin="round"/>
<rect x="94.1" y="428.2" width="27.7" height="58.4" fill="#fff" stroke="#4c4740" stroke-width="0.7"/>
<rect x="247.4" y="428.2" width="22.2" height="58.4" rx="5" fill="#fff" stroke="#4c4740" stroke-width="0.7"/>
<text transform="translate(102.2,478.3) rotate(-90)" font-size="8.4" fill="#000" stroke="#000" stroke-width="0.3" textLength="40.6" lengthAdjust="spacingAndGlyphs">ВХОД 220В</text>
<text transform="translate(113.1,431.3) rotate(90)" font-size="10.8" fill="#1f9fda" stroke="#1f9fda" stroke-width="0.1" textLength="39.2" lengthAdjust="spacingAndGlyphs">apeyron</text>
<text transform="translate(110.9,458.6) rotate(90)" font-size="1.8" fill="#1b9fd8" textLength="10.8" lengthAdjust="spacingAndGlyphs">ELECTRICS</text>
<text transform="translate(260.9,479.2) rotate(-90)" font-size="9" fill="#000" stroke="#000" stroke-width="0.3" textLength="43.2" lengthAdjust="spacingAndGlyphs">ВЫХОД 24В</text>
<text transform="translate(278.2,474.6) rotate(-90)" font-size="6.6" font-weight="bold" fill="#000" stroke="#000" stroke-width="0.2" textLength="36.6" lengthAdjust="spacingAndGlyphs">V- V- V+ V+</text>
<text transform="translate(84.5,445.1) rotate(90)" font-size="6.8" font-weight="bold" fill="#000">L</text>
<text transform="translate(84.5,455.6) rotate(90)" font-size="6.8" font-weight="bold" fill="#000">N</text>
<g stroke="#222" stroke-width="0.6" fill="none"><circle cx="86.9" cy="468" r="3.5"/><path d="M89.6,468 H87.4 M87.4,465.7 V470.3 M86.3,466.4 V469.6 M85.2,467.2 V468.8"/></g>
<path d="M80.5,445.5 H68.6 a1.2,1.2 0 0 0 -1.2,1.2 V472.6 a1.2,1.2 0 0 0 1.2,1.2 H80.5 Z" fill="#e9e9e7" stroke="#4c4740" stroke-width="0.7"/>
<rect x="279.4" y="438.3" width="11.5" height="37.9" fill="#e9e9e7" stroke="#4c4740" stroke-width="0.7"/>
<path d="M45.6,451.4 H72" stroke="#8a4a31" stroke-width="3.1" fill="none"/>
<path d="M45.6,459.4 H72" stroke="#22a7e0" stroke-width="3.1" fill="none"/>
<path d="M72,469.5 H52.2 V500" stroke="#f3ec55" stroke-width="3.6" fill="none"/>
<path d="M72,470.4 H53.1 V500" stroke="#24922f" stroke-width="1.8" fill="none"/>
<path d="M286.5,443.4 H350" stroke="#e83e3b" stroke-width="3" fill="none"/>
<path d="M286.5,462.1 H348.4" stroke="#1a1109" stroke-width="2.8" fill="none"/>
<circle cx="74.5" cy="451.2" r="2.75" fill="#fff" stroke="#111" stroke-width="1"/><text transform="translate(73.1,451.2) rotate(90)" font-size="4" font-weight="bold" text-anchor="middle" fill="#000" stroke="#000" stroke-width="0.15">1</text>
<circle cx="74.5" cy="459.4" r="2.75" fill="#fff" stroke="#111" stroke-width="1"/><text transform="translate(73.1,459.4) rotate(90)" font-size="4" font-weight="bold" text-anchor="middle" fill="#000" stroke="#000" stroke-width="0.15">2</text>
<circle cx="74.5" cy="469.0" r="2.75" fill="#fff" stroke="#111" stroke-width="1"/><text transform="translate(73.1,469.0) rotate(90)" font-size="4" font-weight="bold" text-anchor="middle" fill="#000" stroke="#000" stroke-width="0.15">3</text>
<circle cx="284.6" cy="442.9" r="2.75" fill="#fff" stroke="#111" stroke-width="1"/><text transform="translate(283.20000000000005,442.9) rotate(90)" font-size="4" font-weight="bold" text-anchor="middle" fill="#000" stroke="#000" stroke-width="0.15">4</text>
<circle cx="284.6" cy="452.4" r="2.75" fill="#fff" stroke="#111" stroke-width="1"/><text transform="translate(283.20000000000005,452.4) rotate(90)" font-size="4" font-weight="bold" text-anchor="middle" fill="#000" stroke="#000" stroke-width="0.15">3</text>
<circle cx="284.6" cy="461.9" r="2.75" fill="#fff" stroke="#111" stroke-width="1"/><text transform="translate(283.20000000000005,461.9) rotate(90)" font-size="4" font-weight="bold" text-anchor="middle" fill="#000" stroke="#000" stroke-width="0.15">2</text>
<circle cx="284.6" cy="471.2" r="2.75" fill="#fff" stroke="#111" stroke-width="1"/><text transform="translate(283.20000000000005,471.2) rotate(90)" font-size="4" font-weight="bold" text-anchor="middle" fill="#000" stroke="#000" stroke-width="0.15">1</text>
<g stroke="#151515" stroke-width="0.8" fill="none"><circle cx="52.6" cy="507.4" r="8.2" fill="#fff"/><path d="M52.6,499.6 V505.9" stroke-width="0.7"/><path d="M47.1,506.1 H58.1 M49,509.1 H56.2 M50.9,512.1 H54.3" stroke-width="1"/></g>
<text transform="translate(41.5,472.9) rotate(-90)" font-size="11.9" fill="#000" stroke="#000" stroke-width="0.3" textLength="46.3" lengthAdjust="spacingAndGlyphs">AC 220 В</text>
</svg>
</body></html>
